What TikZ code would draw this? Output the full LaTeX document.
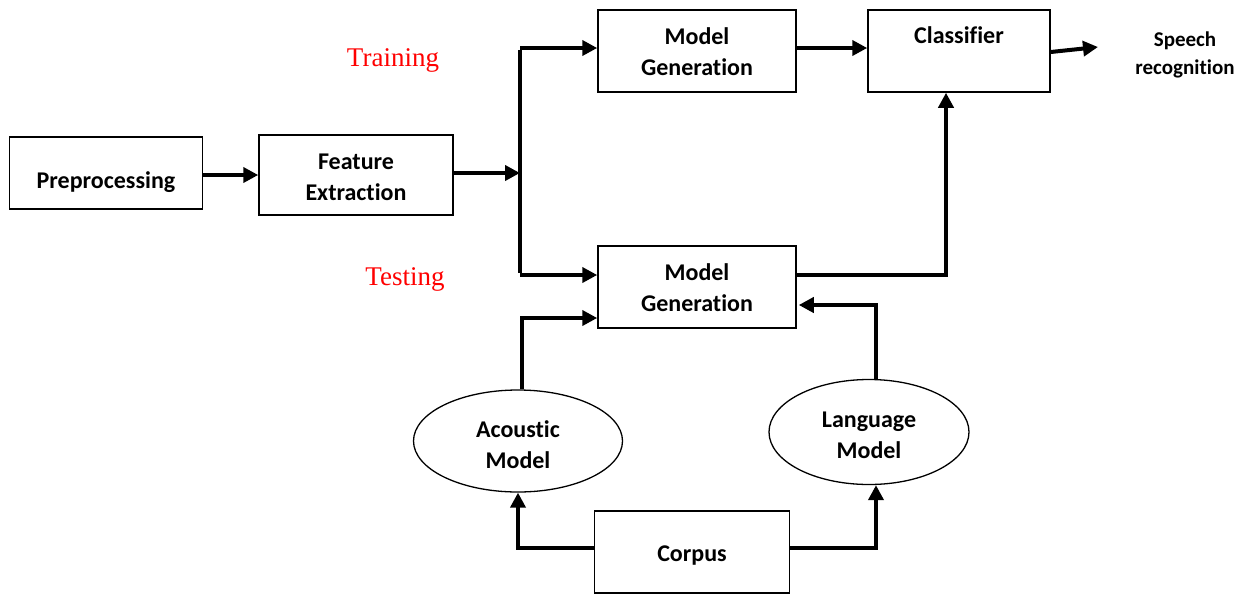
\documentclass[tikz,border=0pt]{standalone}
\usepackage{fontspec}
\setmainfont{Carlito}[Ligatures=NoCommon]
\newfontfamily\phasefont{Liberation Serif}
\usetikzlibrary{
    arrows.meta,
    shapes.geometric
}

% text lines, lowered a little inside their shape
\newcommand{\lines}[2][-4pt]{\raisebox{#1}[\height][\depth]{\begin{tabular}{@{}c@{}}#2\end{tabular}}}

\begin{document}
\begin{tikzpicture}[x=1pt, y=-1pt,
    box/.style={draw, line width=1.5pt, inner sep=0pt,
        font=\bfseries\fontsize{24}{31}\selectfont},
    blob/.style={draw, ellipse, line width=1.3pt, inner sep=0pt,
        font=\bfseries\fontsize{24}{31}\selectfont},
    flow/.style={line width=4pt, -{Triangle[length=15pt,width=15pt]}},
    wire/.style={line width=4pt},
    phase/.style={text=red, font=\phasefont\fontsize{27}{30}\selectfont}
]

\useasboundingbox (0,0) rectangle (1247,595);

% Boxes
\node[box, minimum width=193, minimum height=72] (pre) at (106,173) {\lines[-9pt]{Preprocessing}};
\node[box, minimum width=194, minimum height=80] (feat) at (356,175) {\lines[-4pt]{Feature\\Extraction}};
\node[box, minimum width=198, minimum height=82] (gentrain) at (697,51) {\lines[-2.5pt]{Model\\Generation}};
\node[box, minimum width=182, minimum height=82] (clf) at (959,51) {\lines[-2pt]{Classifier\\ \mbox{}}};
\node[box, minimum width=198, minimum height=82] (gentest) at (697,287) {\lines[-3pt]{Model\\Generation}};
\node[box, minimum width=195, minimum height=82] (corpus) at (692,552) {\lines[-3pt]{Corpus}};

% Ellipses
\node[blob, minimum width=209, minimum height=102] (acoustic) at (518,441) {\lines[-6pt]{Acoustic\\Model}};
\node[blob, minimum width=200, minimum height=105] (lang) at (869,432) {\lines[-5pt]{Language\\Model}};

% Output text
\node[font=\bfseries\fontsize{21}{28}\selectfont, align=center] (speech) at (1185,55) {Speech\\recognition};

% Phase labels
\node[phase] (train) at (393,60) {Training};
\node[phase] (test) at (405,279) {Testing};

% Split point
\coordinate (split) at (520,173);
\coordinate (splittop) at (520,48);
\coordinate (splitbot) at (520,275);
\coordinate (out) at (1098,47);

% Main chain
\draw[flow] (pre.east |- 0,175) -- (feat.west |- 0,175);
\draw[flow] (feat.east |- split) -- (split);
\draw[wire] ([yshift=-2pt]splittop) -- ([yshift=2pt]splitbot);
\draw[flow] (splittop) -- (splittop -| gentrain.west);
\draw[flow] (splitbot) -- (splitbot -| gentest.west);
\draw[flow] (gentrain.east |- splittop) -- (splittop -| clf.west);
\draw[flow] ([yshift=-1pt]clf.east) -- (out);

% Testing to classifier
\draw[flow] (gentest.east |- splitbot) -| (clf.south -| 946,0);

% Models into generation
\draw[flow] (acoustic.north -| 522,0) |- (gentest.west |- 0,318);
\draw[flow] (lang.north -| 876,0) |- ([xshift=2pt]gentest.east |- 0,305);

% Corpus into models
\draw[flow] (corpus.west |- 0,548) -| (acoustic.south);
\draw[flow] (corpus.east |- 0,548) -| (lang.south -| 876,0);

\end{tikzpicture}
\end{document}
